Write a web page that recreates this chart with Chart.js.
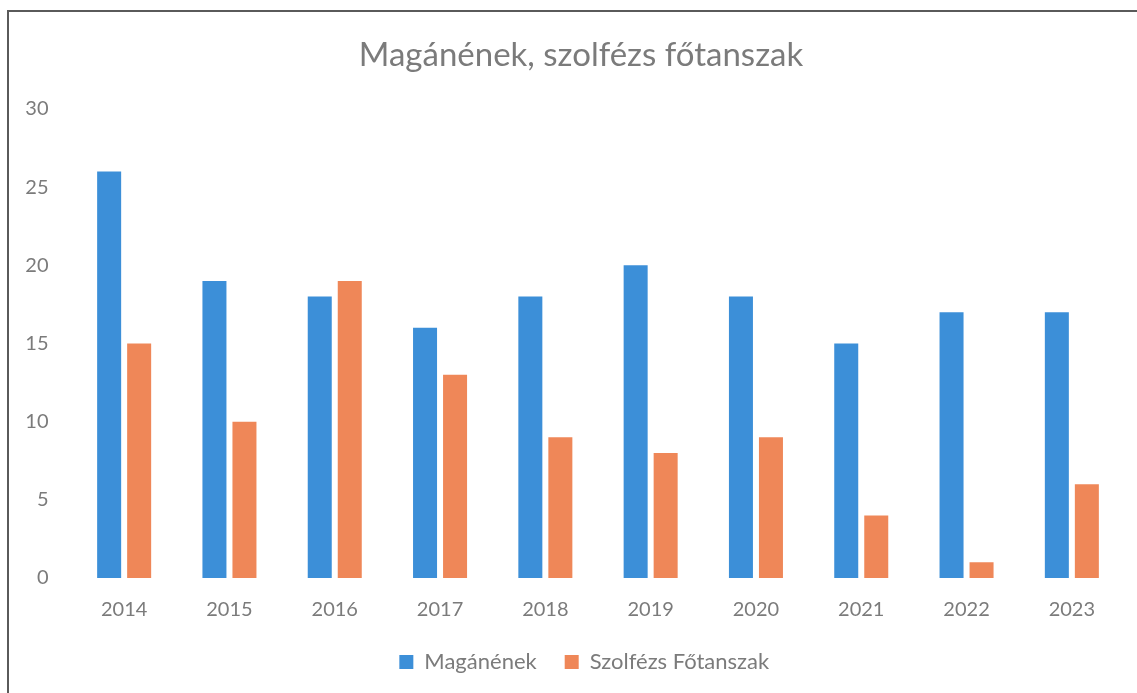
<!DOCTYPE html>
<html>
<head>
<meta charset="utf-8">
<script src="https://cdn.jsdelivr.net/npm/chart.js@4.4.1/dist/chart.umd.min.js"></script>
<style>
  html, body { margin: 0; padding: 0; background: #fff; overflow: hidden; }
  #wrap { position: relative; width: 1137px; height: 693px; }
  #frame { position: absolute; left: 7px; top: 10px; width: 1200px; height: 800px;
           border-left: 2px solid #5a5a5a; border-top: 2px solid #5a5a5a; box-sizing: border-box; }
  canvas { position: absolute; left: 0; top: 0; }
</style>
</head>
<body>
<div id="wrap">
  <div id="frame"></div>
  <canvas id="c" width="1137" height="693"></canvas>
</div>
<script>
const titleText = 'Magánének, szolfézs főtanszak';
const categories = ['2014', '2015', '2016', '2017', '2018', '2019', '2020', '2021', '2022', '2023'];
const seriesNames = ['Magánének', 'Szolfézs Főtanszak'];
const maganenek = [26, 19, 18, 16, 18, 20, 18, 15, 17, 17];
const szolfezs = [15, 10, 19, 13, 9, 8, 9, 4, 1, 6];
const yTicks = [0, 5, 10, 15, 20, 25, 30];

const FONT = 'Lato, "Open Sans", sans-serif';
const TEXT = '#7b7b7b';

const titlePlugin = {
  id: 'offsetTitle',
  afterLayout(chart) {
    if (chart.legend) { chart.legend.left += 17; chart.legend.right += 17; }
  },
  afterDraw(chart) {
    const ctx = chart.ctx;
    ctx.save();
    ctx.font = '33px ' + FONT;
    ctx.fillStyle = TEXT;
    ctx.textAlign = 'center';
    ctx.textBaseline = 'middle';
    ctx.fillText(titleText, 581, 55);
    ctx.restore();
  }
};

new Chart(document.getElementById('c'), {
  type: 'bar',
  data: {
    labels: categories,
    datasets: [
      { label: seriesNames[0], data: maganenek, backgroundColor: '#3c8fd8', borderWidth: 0,
        categoryPercentage: 0.57, barPercentage: 0.8 },
      { label: seriesNames[1], data: szolfezs, backgroundColor: '#ef8758', borderWidth: 0,
        categoryPercentage: 0.57, barPercentage: 0.8 }
    ]
  },
  plugins: [titlePlugin],
  options: {
    responsive: false,
    animation: false,
    layout: { padding: { left: 10, right: 12.5, top: 109, bottom: 10 } },
    plugins: {
      tooltip: { enabled: false },
      title: { display: false },
      legend: {
        position: 'bottom',
        labels: { color: TEXT, font: { family: FONT, size: 22 }, boxWidth: 14, boxHeight: 14, padding: 28 }
      }
    },
    scales: {
      x: {
        grid: { display: false, drawTicks: false },
        border: { display: false },
        ticks: { color: TEXT, font: { family: FONT, size: 20 }, padding: 20 },
        afterFit: s => { s.height = 45; }
      },
      y: {
        min: 0, max: 30,
        grid: { display: false, drawTicks: false },
        border: { display: false },
        afterBuildTicks: s => { s.ticks = yTicks.map(v => ({ value: v })); },
        ticks: { color: TEXT, font: { family: FONT, size: 20 }, padding: 23 },
        afterFit: s => { s.width = 61.5; }
      }
    }
  }
});
</script>
</body>
</html>
